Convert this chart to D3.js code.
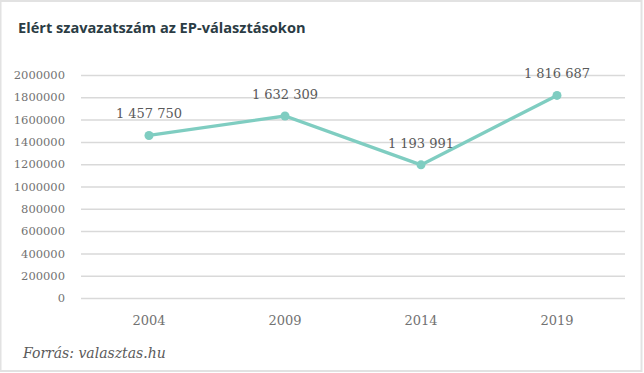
<!DOCTYPE html>
<html>
<head>
<meta charset="utf-8">
<script src="https://cdn.jsdelivr.net/npm/d3@7/dist/d3.min.js"></script>
<style>
	html, body { margin: 0; padding: 0; background: #fff; }
	svg { display: block; }
</style>
</head>
<body>
<svg id="chart" width="644" height="373"></svg>
<script>
const years = ["2004", "2009", "2014", "2019"];
const votes = [1457750, 1632309, 1193991, 1816687];
const yTicks = [0, 200000, 400000, 600000, 800000, 1000000, 1200000, 1400000, 1600000, 1800000, 2000000];

const width = 644;
const height = 373;
const margin = {top: 75, right: 19, bottom: 75, left: 81};

const svg = d3.select('#chart');

// card border
svg.append('rect')
	.attr('x', 0.5).attr('y', 1)
	.attr('width', 641).attr('height', 370)
	.attr('fill', '#fff')
	.attr('stroke', '#e2e2e2')
	.attr('stroke-width', 2);

svg.append('text')
	.attr('x', 18).attr('y', 33)
	.attr('font-family', 'Open Sans')
	.attr('font-weight', 700)
	.attr('font-size', 14.6)
	.attr('fill', '#2b3c44')
	.text('Elért szavazatszám az EP-választásokon');

const x = d3.scaleBand()
	.domain(years)
	.range([margin.left, width - margin.right]);

const y = d3.scaleLinear()
	.domain([0, 2000000])
	.range([298, 75]);

// grid + y labels
const yAxis = svg.append('g')
	.attr('transform', `translate(${margin.left},0)`)
	.call(d3.axisLeft(y).tickValues(yTicks).tickSize(-(width - margin.left - margin.right)).tickPadding(16).tickFormat(d3.format('d')));
yAxis.select('.domain').remove();
yAxis.selectAll('.tick line').attr('stroke', '#d9d9d9').attr('stroke-width', 1.5);
yAxis.selectAll('.tick text')
	.attr('font-family', 'DejaVu Serif')
	.attr('font-size', 11.5)
	.attr('fill', '#727272');

const xAxis = svg.append('g')
	.attr('transform', `translate(0,298)`)
	.call(d3.axisBottom(x).tickSize(0).tickPadding(18));
xAxis.select('.domain').remove();
xAxis.selectAll('.tick text')
	.attr('font-family', 'DejaVu Serif')
	.attr('font-size', 13)
	.attr('fill', '#727272');

const cx = (d, i) => x(years[i]) + x.bandwidth() / 2;

const line = d3.line()
	.x(cx)
	.y(d => y(d));

svg.append('path')
	.datum(votes)
	.attr('d', line)
	.attr('fill', 'none')
	.attr('stroke', '#7fcdc1')
	.attr('stroke-width', 3.3);

svg.selectAll('circle.pt')
	.data(votes)
	.join('circle')
	.attr('class', 'pt')
	.attr('cx', cx)
	.attr('cy', d => y(d))
	.attr('r', 4.5)
	.attr('fill', '#7fcdc1');

const fmt = d => d3.format(',')(d).replace(/,/g, ' ');

svg.selectAll('text.lbl')
	.data(votes)
	.join('text')
	.attr('class', 'lbl')
	.attr('x', cx)
	.attr('y', d => y(d) - 17)
	.attr('text-anchor', 'middle')
	.attr('font-family', 'DejaVu Serif')
	.attr('font-size', 13)
	.attr('fill', '#5a5a5a')
	.text(fmt);

svg.append('text')
	.attr('x', 23).attr('y', 358)
	.attr('font-family', 'DejaVu Serif')
	.attr('font-style', 'italic')
	.attr('font-size', 14)
	.attr('fill', '#5a5a5a')
	.text('Forrás: valasztas.hu');
</script>
</body>
</html>
